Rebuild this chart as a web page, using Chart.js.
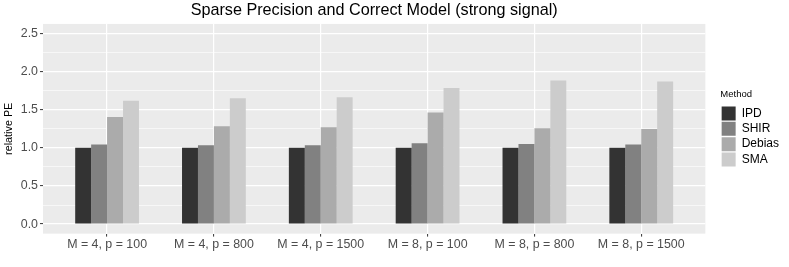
<!DOCTYPE html>
<html><head><meta charset="utf-8">
<script src="https://cdn.jsdelivr.net/npm/chart.js@4/dist/chart.umd.min.js"></script>
<style>html,body{margin:0;padding:0;background:#fff}#wrap{width:789px;height:267px}</style>
</head><body><div id="wrap"><canvas id="c" width="789" height="267"></canvas></div>
<script>
const categories = ["M = 4, p = 100","M = 4, p = 800","M = 4, p = 1500","M = 8, p = 100","M = 8, p = 800","M = 8, p = 1500"];
const methods = ["IPD","SHIR","Debias","SMA"];
const ipd    = [1.000,1.000,1.000,1.000,1.000,1.000];
const shir   = [1.044,1.034,1.034,1.061,1.052,1.044];
const debias = [1.406,1.282,1.269,1.463,1.256,1.247];
const sma    = [1.618,1.649,1.662,1.786,1.883,1.870];
const yTicks = [0.0,0.5,1.0,1.5,2.0,2.5];
const colors = ["#333333","#818181","#ABABAB","#CCCCCC"];

const FONT = "'Liberation Sans', Arial, Helvetica, sans-serif";
const seriesValues = [ipd, shir, debias, sma];
const datasets = methods.map((m, k) => ({
  label: m,
  data: seriesValues[k].map((v, i) => ({x: i, y: v})),
  backgroundColor: colors[k],
  borderWidth: 0,
  categoryPercentage: 0.597,
  barPercentage: 1.0
}));

// major + minor y ticks
const yAll = [];
yTicks.forEach((t, i) => {
  yAll.push({value: t, major: true});
  if (i < yTicks.length - 1) yAll.push({value: (t + yTicks[i+1]) / 2, major: false});
});

const panelBg = {
  id: 'panelBg',
  beforeDraw(chart) {
    const a = chart.chartArea, ctx = chart.ctx;
    ctx.save();
    ctx.fillStyle = '#EBEBEB';
    ctx.fillRect(a.left, a.top, a.right - a.left, a.bottom - a.top);
    ctx.restore();
  }
};

new Chart(document.getElementById('c'), {
  type: 'bar',
  data: {datasets},
  plugins: [panelBg],
  options: {
    responsive: false,
    animation: false,
    devicePixelRatio: 1,
    layout: {padding: {left: 0, right: 0, top: 0, bottom: 13.5}},
    plugins: {
      title: {
        display: true,
        text: 'Sparse Precision and Correct Model (strong signal)',
        fullSize: false,
        color: '#000',
        font: {family: FONT, size: 16.2, weight: 'normal'},
        padding: {top: 1, bottom: 3.5}
      },
      legend: {
        position: 'right',
        align: 'center',
        fullSize: false,
        title: {display: true, text: 'Method', color: '#000', position: 'start',
                font: {family: FONT, size: 9.5}, padding: {top: 0, bottom: 4}},
        labels: {boxWidth: 14, boxHeight: 14, padding: 1.3, color: '#000',
                 font: {family: FONT, size: 12}}
      },
      tooltip: {enabled: false}
    },
    scales: {
      x: {
        type: 'linear',
        min: -0.6, max: 5.6,
        offset: false,
        afterBuildTicks: s => { s.ticks = categories.map((_, i) => ({value: i})); },
        ticks: {
          callback: v => categories[v],
          color: '#4D4D4D', font: {family: FONT, size: 12.4}, padding: 1,
          maxRotation: 0, autoSkip: false
        },
        grid: {offset: false, color: '#FFFFFF', lineWidth: 1.2, tickColor: '#333333', tickLength: 3, tickWidth: 1},
        border: {display: false}
      },
      y: {
        type: 'linear',
        min: -0.125, max: 2.625,
        afterBuildTicks: s => { s.ticks = yAll.map(t => ({value: t.value, major: t.major})); },
        ticks: {
          callback: (v) => yTicks.includes(v) ? v.toFixed(1) : '',
          color: '#4D4D4D', font: {family: FONT, size: 12.4}, padding: 2
        },
        grid: {
          color: '#FFFFFF',
          lineWidth: c => (c.tick && yTicks.includes(c.tick.value)) ? 1.2 : 0.6,
          tickColor: c => (c.tick && yTicks.includes(c.tick.value)) ? '#333333' : 'rgba(0,0,0,0)',
          tickLength: 3, tickWidth: 1
        },
        border: {display: false},
        title: {display: true, text: 'relative PE', color: '#000',
                font: {family: FONT, size: 10.8}, padding: {top: 2.3, bottom: 3.5}}
      },
      y2: {
        position: 'right',
        display: true,
        grid: {display: false, drawTicks: false},
        ticks: {display: false},
        border: {display: false},
        afterFit: s => { s.width = 15; }
      }
    }
  }
});
</script>
</body></html>
